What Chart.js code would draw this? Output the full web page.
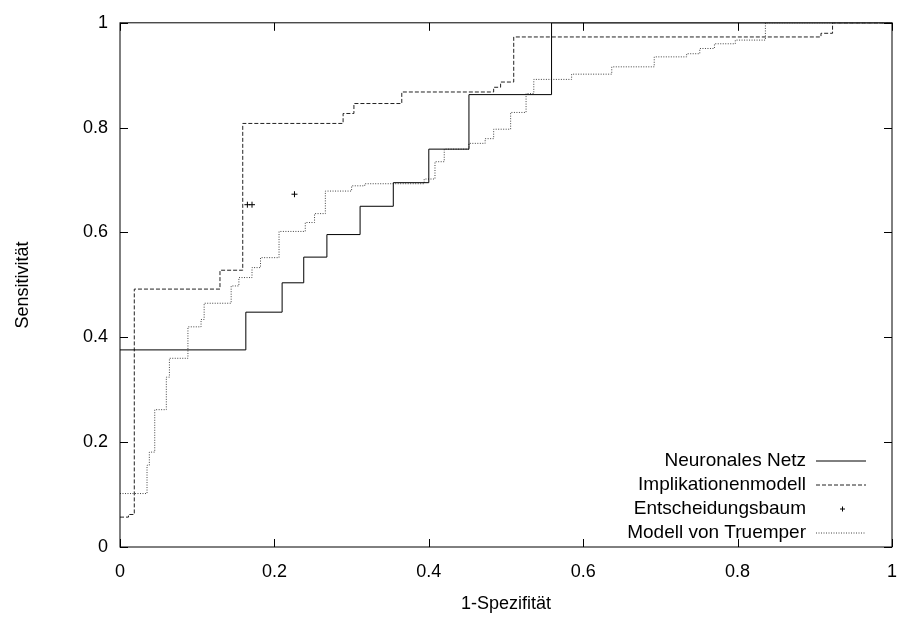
<!DOCTYPE html>
<html>
<head>
<meta charset="utf-8">
<script src="https://cdn.jsdelivr.net/npm/chart.js@4"></script>
<style>
  html, body { margin: 0; padding: 0; background: #fff; }
  #wrap { width: 897px; height: 619px; }
</style>
</head>
<body>
<div id="wrap"><canvas id="roc"></canvas></div>
<script>
// Step points: x where the step occurs, y = level after the step
const netzX = [0, 0.163, 0.21, 0.238, 0.268, 0.311, 0.354, 0.4, 0.452, 0.559, 1];
const netzY = [0.376, 0.448, 0.504, 0.553, 0.596, 0.65, 0.695, 0.759, 0.863, 1, 1];

const implX = [0, 0.011, 0.0185, 0.1295, 0.159, 0.289, 0.303, 0.365, 0.484, 0.493, 0.51, 0.908, 0.923, 1];
const implY = [0.057, 0.062, 0.492, 0.528, 0.808, 0.827, 0.846, 0.868, 0.877, 0.887, 0.973, 0.98, 1, 1];

const baumX = [0.165, 0.171, 0.226];
const baumY = [0.653, 0.653, 0.673];

const truX = [0, 0.035, 0.038, 0.045, 0.06, 0.064, 0.088, 0.105, 0.109, 0.144, 0.154, 0.171, 0.182,
  0.206, 0.24, 0.252, 0.266, 0.3, 0.317, 0.394, 0.408, 0.42, 0.452, 0.473, 0.484, 0.506, 0.526,
  0.536, 0.585, 0.637, 0.692, 0.734, 0.751, 0.77, 0.797, 0.836, 1];
const truY = [0.102, 0.156, 0.181, 0.262, 0.324, 0.36, 0.42, 0.434, 0.465, 0.498, 0.514, 0.533, 0.552,
  0.602, 0.619, 0.636, 0.679, 0.689, 0.693, 0.702, 0.735, 0.759, 0.77, 0.779, 0.797, 0.829, 0.865,
  0.892, 0.902, 0.916, 0.935, 0.941, 0.951, 0.96, 0.967, 1, 1];

const labels = ['Neuronales Netz', 'Implikationenmodell', 'Entscheidungsbaum', 'Modell von Truemper'];
const xTicks = [0, 0.2, 0.4, 0.6, 0.8, 1];
const yTicks = [0, 0.2, 0.4, 0.6, 0.8, 1];

const pts = (xs, ys) => xs.map((x, i) => ({ x: x, y: ys[i] }));
const FONT = 'Liberation Sans, Arial, sans-serif';

// gnuplot-style legend: right-aligned text with a sample to its right
const legendPlugin = {
  id: 'gpLegend',
  afterDraw(chart) {
    const ctx = chart.ctx;
    const a = chart.chartArea;
    ctx.save();
    ctx.font = '19px ' + FONT;
    ctx.textAlign = 'right';
    ctx.textBaseline = 'middle';
    const rows = [461, 485, 509, 533];
    chart.data.datasets.forEach((ds, i) => {
      const y = rows[i];
      ctx.fillStyle = '#000';
      ctx.fillText(ds.label, 806, y);
      ctx.strokeStyle = ds.borderColor;
      ctx.lineWidth = 1;
      if (ds.showLine === false) {
        ctx.beginPath();
        ctx.moveTo(842.5, y - 2.5); ctx.lineTo(842.5, y + 2.5);
        ctx.moveTo(840, y); ctx.lineTo(845, y);
        ctx.stroke();
      } else {
        ctx.setLineDash(ds.borderDash || []);
        ctx.beginPath();
        ctx.moveTo(816, y); ctx.lineTo(866, y);
        ctx.stroke();
        ctx.setLineDash([]);
      }
    });
    ctx.strokeStyle = '#000';
    ctx.lineWidth = 1;
    ctx.strokeRect(a.left, a.top, a.right - a.left, a.bottom - a.top);
    ctx.restore();
  }
};

new Chart(document.getElementById('roc'), {
  type: 'scatter',
  data: {
    datasets: [
      { label: labels[0], data: pts(netzX, netzY), showLine: true, stepped: 'before',
        borderColor: '#000', borderWidth: 1, pointRadius: 0 },
      { label: labels[1], data: pts(implX, implY), showLine: true, stepped: 'before',
        borderColor: '#222', borderWidth: 1, borderDash: [4, 2], pointRadius: 0 },
      { label: labels[2], data: pts(baumX, baumY), showLine: false,
        borderColor: '#000', pointStyle: 'cross', pointRadius: 3, borderWidth: 1 },
      { label: labels[3], data: pts(truX, truY), showLine: true, stepped: 'before',
        borderColor: '#444', borderWidth: 1, borderDash: [1, 1.5], pointRadius: 0 }
    ]
  },
  options: {
    responsive: true,
    maintainAspectRatio: false,
    animation: false,
    layout: { padding: { top: 21, right: -3, bottom: 0, left: 8 } },
    plugins: { legend: { display: false }, tooltip: { enabled: false } },
    scales: {
      x: {
        type: 'linear', min: 0, max: 1,
        afterBuildTicks: s => { s.ticks = xTicks.map(v => ({ value: v })); },
        afterFit: s => { s.height = 72; s.paddingRight = 0; },
        grid: { display: false, drawTicks: false },
        border: { display: false },
        ticks: { color: '#000', font: { family: FONT, size: 18 }, padding: 14, maxRotation: 0,
                 callback: v => String(v) },
        title: { display: true, text: '1-Spezifität', color: '#000',
                 font: { family: FONT, size: 18 }, padding: { top: 8 } }
      },
      y: {
        type: 'linear', min: 0, max: 1,
        afterBuildTicks: s => { s.ticks = yTicks.map(v => ({ value: v })); },
        afterFit: s => { s.width = 112; },
        grid: { display: false, drawTicks: false },
        border: { display: false },
        ticks: { color: '#000', font: { family: FONT, size: 18 }, padding: 12,
                 callback: v => String(v) },
        title: { display: true, text: 'Sensitivität', color: '#000',
                 font: { family: FONT, size: 18 }, padding: { bottom: 14 } }
      }
    }
  },
  plugins: [legendPlugin, {
    id: 'tickMarks',
    afterDraw(chart) {
      const ctx = chart.ctx, a = chart.chartArea;
      const xs = chart.scales.x, ys = chart.scales.y;
      ctx.save();
      ctx.strokeStyle = '#000'; ctx.lineWidth = 1;
      ctx.beginPath();
      xTicks.forEach(v => {
        const p = Math.round(xs.getPixelForValue(v)) + 0.5;
        ctx.moveTo(p, a.bottom); ctx.lineTo(p, a.bottom - 8);
        ctx.moveTo(p, a.top); ctx.lineTo(p, a.top + 8);
      });
      yTicks.forEach(v => {
        const p = Math.round(ys.getPixelForValue(v)) + 0.5;
        ctx.moveTo(a.left, p); ctx.lineTo(a.left + 8, p);
        ctx.moveTo(a.right, p); ctx.lineTo(a.right - 8, p);
      });
      ctx.stroke();
      ctx.restore();
    }
  }]
});
</script>
</body>
</html>
